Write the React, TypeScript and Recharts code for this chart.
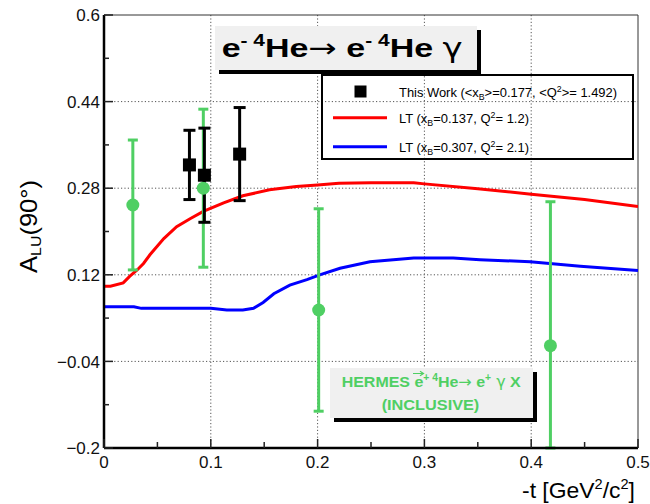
import React from "react";
import {
  ComposedChart,
  Line,
  Scatter,
  ErrorBar,
  XAxis,
  YAxis,
  ReferenceLine,
} from "recharts";

const FONT = "'Liberation Sans', Arial, Helvetica, sans-serif";
const SYMBOL_FONT = "'DejaVu Sans', 'Liberation Sans', sans-serif";
const GREEN = "#4fcf63";

// LT calculation, x_B = 0.137, Q^2 = 1.2
const ltLowT = [0, 0.006, 0.018, 0.024, 0.031, 0.037, 0.043, 0.056, 0.068, 0.081, 0.093, 0.112, 0.13, 0.155, 0.18, 0.2, 0.22, 0.25, 0.29, 0.3, 0.35, 0.4, 0.45, 0.5];
const ltLowA = [0.099, 0.099, 0.105, 0.117, 0.129, 0.141, 0.157, 0.187, 0.209, 0.224, 0.237, 0.253, 0.266, 0.277, 0.283, 0.286, 0.289, 0.29, 0.29, 0.288, 0.279, 0.269, 0.259, 0.246];

// LT calculation, x_B = 0.307, Q^2 = 2.1
const ltHighT = [0, 0.028, 0.035, 0.1, 0.115, 0.13, 0.14, 0.149, 0.159, 0.174, 0.19, 0.202, 0.221, 0.249, 0.29, 0.327, 0.352, 0.399, 0.446, 0.5];
const ltHighA = [0.061, 0.061, 0.058, 0.058, 0.055, 0.055, 0.058, 0.069, 0.085, 0.101, 0.111, 0.12, 0.132, 0.144, 0.151, 0.151, 0.148, 0.144, 0.136, 0.128];

// This work
const workT = [0.08, 0.094, 0.127];
const workA = [0.323, 0.304, 0.343];
const workErrLo = [0.064, 0.087, 0.086];
const workErrHi = [0.064, 0.087, 0.086];

// HERMES inclusive (last lower bar runs past the frame)
const hermesT = [0.027, 0.093, 0.201, 0.418];
const hermesA = [0.249, 0.28, 0.055, -0.011];
const hermesErrLo = [0.12, 0.146, 0.187, 0.189];
const hermesErrHi = [0.12, 0.146, 0.187, 0.266];

const xTicks = [0, 0.05, 0.1, 0.15, 0.2, 0.25, 0.3, 0.35, 0.4, 0.45, 0.5];
const xMajor = [0, 0.1, 0.2, 0.3, 0.4, 0.5];
const yTicks = [-0.2, -0.12, -0.04, 0.04, 0.12, 0.2, 0.28, 0.36, 0.44, 0.52, 0.6];
const yMajor = [-0.2, -0.04, 0.12, 0.28, 0.44, 0.6];
const xGrid = [0.1, 0.2, 0.3, 0.4];
const yGrid = [-0.04, 0.12, 0.28, 0.44];

const pairs = (ts: number[], as: number[]) => ts.map((t, i) => ({ t, a: as[i] }));
const ltLow = pairs(ltLowT, ltLowA);
const ltHigh = pairs(ltHighT, ltHighA);
const thisWork = workT.map((t, i) => ({ t, a: workA[i], err: [workErrLo[i], workErrHi[i]] }));
const hermes = hermesT.map((t, i) => ({ t, a: hermesA[i], err: [hermesErrLo[i], hermesErrHi[i]] }));

const isIn = (list: number[], v: number) => list.some((m) => Math.abs(m - v) < 1e-6);
const fmt = (v: number) => {
  const s = String(Math.round(Math.abs(v) * 100) / 100);
  return v < -1e-9 ? "\u2212" + s : s;
};

const YTick = (props: any) => {
  const { x, y, payload } = props;
  const v = payload.value;
  const major = isIn(yMajor, v);
  return (
    <g>
      <line x1={x} x2={x + (major ? 9 : 5)} y1={y} y2={y} stroke="#222" strokeWidth={1.5} />
      {major && (
        <text x={x - 4} y={y} dy="0.36em" textAnchor="end" fontSize={17} fontFamily={FONT} fill="#111">
          {fmt(v)}
        </text>
      )}
    </g>
  );
};

const XTick = (props: any) => {
  const { x, y, payload } = props;
  const v = payload.value;
  const major = isIn(xMajor, v);
  return (
    <g>
      <line x1={x} x2={x} y1={y} y2={y - (major ? 9 : 6)} stroke="#222" strokeWidth={1.5} />
      {major && (
        <text x={x} y={y + 20} textAnchor="middle" fontSize={17} fontFamily={FONT} fill="#111">
          {fmt(v)}
        </text>
      )}
    </g>
  );
};

const SquareMark = (p: any) => (
  <rect x={p.cx - 6.5} y={p.cy - 6.5} width={13} height={13} fill="#000" />
);
const DotMark = (p: any) => <circle cx={p.cx} cy={p.cy} r={6.5} fill={GREEN} />;

export default function App() {
  return (
    <div style={{ position: "absolute", left: 0, top: 0, width: 650, height: 504, background: "#fff" }}>
      <ComposedChart width={650} height={504} margin={{ top: 15, right: 12, bottom: 0, left: 0 }}>
        <XAxis
          type="number"
          dataKey="t"
          domain={[0, 0.5]}
          ticks={xTicks}
          interval={0}
          tick={<XTick />}
          tickLine={false}
          tickSize={0}
          tickMargin={0}
          height={56}
          axisLine={{ stroke: "#000", strokeWidth: 2.5 }}
          allowDataOverflow
        />
        <YAxis
          type="number"
          dataKey="a"
          domain={[-0.2, 0.6]}
          ticks={yTicks}
          interval={0}
          tick={<YTick />}
          tickLine={false}
          tickSize={0}
          tickMargin={0}
          width={104}
          axisLine={{ stroke: "#000", strokeWidth: 2.5 }}
          allowDataOverflow
        />
        {xGrid.map((v) => (
          <ReferenceLine key={"gx" + v} x={v} stroke="#555" strokeDasharray="1.2 2.2" strokeWidth={1} />
        ))}
        {yGrid.map((v) => (
          <ReferenceLine key={"gy" + v} y={v} stroke="#555" strokeDasharray="1.2 2.2" strokeWidth={1} />
        ))}
        <ReferenceLine y={0.6} stroke="#333" strokeWidth={1} />
        <ReferenceLine x={0.5} stroke="#333" strokeWidth={1} />
        <Line data={ltLow} dataKey="a" type="linear" stroke="#ff0000" strokeWidth={3} dot={false} isAnimationActive={false} />
        <Line data={ltHigh} dataKey="a" type="linear" stroke="#0000ff" strokeWidth={3} dot={false} isAnimationActive={false} />
        <Scatter data={hermes} dataKey="a" shape={DotMark} isAnimationActive={false}>
          <ErrorBar dataKey="err" direction="y" width={5} strokeWidth={3} stroke={GREEN} />
        </Scatter>
        <Scatter data={thisWork} dataKey="a" shape={SquareMark} isAnimationActive={false}>
          <ErrorBar dataKey="err" direction="y" width={6} strokeWidth={3} stroke="#000" />
        </Scatter>
      </ComposedChart>

      <svg
        width={650}
        height={504}
        style={{ position: "absolute", left: 0, top: 0, pointerEvents: "none" }}
        fontFamily={FONT}
      >
        {/* reaction title */}
        <rect x={219} y={30} width={262} height={44} fill="#000" />
        <rect x={215} y={26} width={262} height={44} fill="#f0f0f0" />
        <text x={221.7} y={56.7} fontSize={26} fontWeight="bold" fill="#000" textLength={241} lengthAdjust="spacingAndGlyphs">
          e<tspan fontSize={16} dy={-11}>-</tspan>
          <tspan fontSize={16}> 4</tspan>
          <tspan dy={11}>He</tspan>
          <tspan fontWeight="normal" fontFamily={SYMBOL_FONT}>{"\u2192"}</tspan>
          <tspan> e</tspan>
          <tspan fontSize={16} dy={-11}>-</tspan>
          <tspan fontSize={16}> 4</tspan>
          <tspan dy={11}>He </tspan>
          <tspan fontWeight="normal" fontFamily={SYMBOL_FONT}>{"\u03B3"}</tspan>
        </text>

        {/* legend */}
        <rect x={322} y={75} width={311} height={84} fill="none" stroke="#000" strokeWidth={2} />
        <rect x={354.5} y={85.5} width={12} height={12} fill="#000" />
        <line x1={333} x2={387} y1={117.7} y2={117.7} stroke="#ff0000" strokeWidth={3} />
        <line x1={333} x2={387} y1={146.7} y2={146.7} stroke="#0000ff" strokeWidth={3} />
        <text x={399} y={96.7} fontSize={12.5} fill="#000" textLength={218} lengthAdjust="spacingAndGlyphs">
          {"This Work (<x"}
          <tspan fontSize={8.5} dy={3}>B</tspan>
          <tspan dy={-3}>{">=0.177, <Q"}</tspan>
          <tspan fontSize={8.5} dy={-5}>2</tspan>
          <tspan dy={5}>{">= 1.492)"}</tspan>
        </text>
        <text x={399} y={123.3} fontSize={12.5} fill="#000" textLength={130} lengthAdjust="spacingAndGlyphs">
          {"LT (x"}
          <tspan fontSize={8.5} dy={3}>B</tspan>
          <tspan dy={-3}>{"=0.137, Q"}</tspan>
          <tspan fontSize={8.5} dy={-5}>2</tspan>
          <tspan dy={5}>{"= 1.2)"}</tspan>
        </text>
        <text x={399} y={151.7} fontSize={12.5} fill="#000" textLength={130} lengthAdjust="spacingAndGlyphs">
          {"LT (x"}
          <tspan fontSize={8.5} dy={3}>B</tspan>
          <tspan dy={-3}>{"=0.307, Q"}</tspan>
          <tspan fontSize={8.5} dy={-5}>2</tspan>
          <tspan dy={5}>{"= 2.1)"}</tspan>
        </text>

        {/* HERMES label */}
        <rect x={334} y={372} width={203} height={50} fill="#000" />
        <rect x={330} y={368} width={203} height={50} fill="#f0f0f0" />
        <text x={341.7} y={386.7} fontSize={15.5} fontWeight="bold" fill={GREEN} textLength={179} lengthAdjust="spacingAndGlyphs">
          {"HERMES e"}
          <tspan fontSize={10} dy={-6}>+</tspan>
          <tspan fontSize={10}> 4</tspan>
          <tspan dy={6}>He</tspan>
          <tspan fontWeight="normal" fontFamily={SYMBOL_FONT}>{"\u2192"}</tspan>
          <tspan> e</tspan>
          <tspan fontSize={10} dy={-6}>+</tspan>
          <tspan dy={6} fontWeight="normal" fontFamily={SYMBOL_FONT}>{" \u03B3"}</tspan>
          <tspan> X</tspan>
        </text>
        {/* polarisation arrow over the beam electron */}
        <path d="M413 373.5 H423 M420 371.3 L423.5 373.5 L420 375.7" stroke={GREEN} strokeWidth={1.2} fill="none" />
        <text x={381.7} y={410} fontSize={15.5} fontWeight="bold" fill={GREEN} textLength={97.6} lengthAdjust="spacingAndGlyphs">
          (INCLUSIVE)
        </text>

        {/* axis titles */}
        <text transform="translate(37.3,273) rotate(-90)" fontSize={24} fill="#000" textLength={93} lengthAdjust="spacingAndGlyphs">
          A<tspan fontSize={15} dy={4}>LU</tspan>
          <tspan dy={-4}>(90°)</tspan>
        </text>
        <text x={522} y={498} fontSize={22} fill="#000" textLength={113} lengthAdjust="spacingAndGlyphs">
          -t [GeV<tspan fontSize={14} dy={-9}>2</tspan>
          <tspan dy={9}>/c</tspan>
          <tspan fontSize={14} dy={-9}>2</tspan>
          <tspan dy={9}>]</tspan>
        </text>
      </svg>
    </div>
  );
}
